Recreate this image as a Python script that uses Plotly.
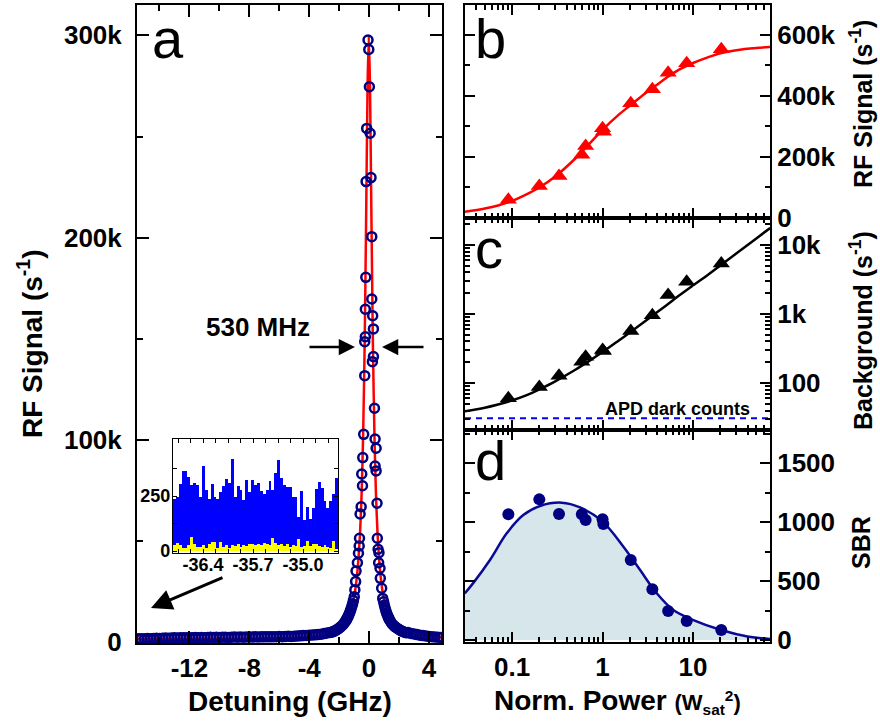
import numpy as np
import plotly.graph_objects as go

FONT = "Liberation Sans, Arial, Helvetica, sans-serif"

# ---------------- panel a: resonance-fluorescence scan (kcounts/s vs GHz) ----------------
core_det = [-0.07, -0.02, 0.02, -0.16, 0.07, 0.13, -0.20, 0.18, -0.22, 0.18,
            -0.25, 0.24, 0.29, -0.25, -0.29, 0.29, 0.22, -0.29, 0.36, -0.36,
            0.40, 0.47, -0.42, 0.40, 0.47, -0.49, -0.44, 0.53, -0.53, -0.60,
            -0.64, 0.55, -0.66, 0.60, 0.66, -0.71, -0.78, 0.64, 0.73, -0.87,
            0.75, -0.90, 0.84, -0.95, 0.91, -0.99,
            -1.05, -1.10, -1.15, -1.20, -1.25, -1.30, -1.35, -1.40, -1.45, -1.50,
            -1.55, -1.60, -1.70, -1.80, -1.90, -2.00, -2.10, -2.20, -2.30, -2.40, -2.50,
            0.97, 1.02, 1.07, 1.12, 1.17, 1.22, 1.27, 1.32, 1.37, 1.42,
            1.50, 1.60, 1.70, 1.80, 1.90, 2.00, 2.10, 2.20, 2.30, 2.40, 2.50]
core_rf_k = [297.7, 293.0, 274.6, 254.0, 251.6, 229.7, 227.7, 200.5, 180.4, 169.7,
             164.6, 161.4, 154.9, 151.0, 148.6, 141.2, 138.7, 131.8, 115.7, 102.8,
             100.5, 95.9, 91.3, 87.1, 84.7, 83.2, 77.4, 68.7, 67.0, 63.4,
             51.4, 51.4, 47.6, 46.0, 44.3, 44.0, 39.3, 39.3, 36.6, 35.2,
             31.6, 30.0, 26.7, 25.9, 21.7, 22.5,
             20.6, 19.0, 17.8, 16.6, 15.5, 14.5, 13.6, 12.8, 12.0, 11.3,
             10.7, 10.1, 9.1, 8.3, 7.6, 7.0, 6.5, 6.0, 5.6, 5.3, 5.0,
             20.0, 18.4, 16.9, 15.6, 14.5, 13.5, 12.6, 11.8, 11.0, 10.4,
             9.4, 8.6, 7.9, 7.3, 6.8, 6.3, 5.9, 5.5, 5.2, 4.9, 4.7]
# far wings of the scan, sampled every 0.2 GHz
tail_left_start = -15.4
tail_left_rf_k = [1.7, 1.8, 1.7, 1.9, 1.8, 1.9, 2.0, 1.9, 2.0, 2.1, 2.0, 2.1, 2.2, 2.1, 2.2, 2.3, 2.2, 2.3,
                  2.3, 2.4, 2.3, 2.4, 2.3, 2.4, 2.5, 2.4, 2.5, 2.4, 2.5, 2.5, 2.4, 2.5, 2.6, 2.5, 2.6, 2.5, 2.6, 2.6,
                  2.6, 2.7, 2.6, 2.7, 2.7, 2.8, 2.7, 2.8, 2.8, 2.9, 2.8, 2.9, 3.0, 2.9, 3.0,
                  3.1, 3.2, 3.3, 3.4, 3.5, 3.6, 3.7, 3.9, 4.0, 4.3, 4.6, 4.9]
tail_right_start = 2.6
tail_right_rf_k = [4.8, 4.4, 4.1, 3.8, 3.5, 3.3, 3.1, 2.9, 2.8, 2.6, 2.5, 2.4]
tail_step = 0.2

# Lorentzian fit (FWHM 530 MHz)
fit_det = [-15.5, -10, -6, -4, -3, -2.5, -2, -1.5, -1.2, -1.0, -0.8, -0.6, -0.5, -0.4, -0.3,
           -0.2, -0.1, -0.02, 0.06, 0.16, 0.26, 0.36, 0.46, 0.56, 0.76, 0.96, 1.2, 1.5, 2, 3, 4.9]
fit_rf_k = [1.6, 1.7, 2.1, 2.8, 3.9, 4.9, 6.7, 11.1, 16.3, 22.5, 33.4, 54.6, 73.1, 101.5, 145,
            207.8, 275.4, 299.5, 275.4, 207.8, 145, 101.5, 73.1, 54.6, 33.4, 22.5, 16.0, 11.0, 6.7, 3.9, 2.4]

# ---------------- inset: counts far off resonance ----------------
inset_start, inset_stop = -36.82, -34.51
inset_signal = [239, 245, 303, 364, 364, 338, 300, 308, 300, 247,
                387, 277, 239, 305, 244, 239, 271, 295, 329, 308,
                419, 244, 295, 277, 231, 323, 270,
                323, 300, 308, 273, 258, 277, 318, 277, 357, 415,
                334, 300, 292, 292, 244, 244, 155, 273, 140, 201,
                146, 194, 282, 312, 286, 227, 196, 227, 259, 334]
inset_dark = [29, 38, 26, 14, 16, 26, 64, 34, 18, 18,
              26, 16, 34, 41, 41, 12, 41, 18, 26, 14,
              26, 22, 30, 20, 28, 24, 30,
              34, 26, 34, 26, 38, 30, 26, 58, 38, 26,
              30, 22, 30, 18, 26, 22, 53, 18, 22, 44,
              22, 30, 34, 22, 18, 26, 20, 14, 44, 8]

# ---------------- panels b-d: power dependence ----------------
power = [0.091, 0.20, 0.33, 0.59, 0.65, 1.0, 1.02, 2.05, 3.55, 5.3, 8.5, 20.5]
rf_signal_k = [60, 105, 138, 207, 236, 294, 283, 376, 422, 476, 507, 553]
background = [60, 88, 128, 204, 240, 300, 290, 567, 960, 1880, 2940, 5400]
sbr = [1065, 1192, 1068, 1065, 1017, 1023, 983, 678, 430, 246, 161, 85]
dark_counts = 31

fit_power_b = [0.03, 0.05, 0.07, 0.1, 0.15, 0.2, 0.3, 0.5, 0.7, 1.0, 1.5, 2.0, 3.0, 4.0, 5.0, 7.0, 10, 15, 20, 30, 50, 71]
fit_rf_b_k = [20, 31, 41, 56, 80, 100, 136, 195, 240, 289, 338, 368, 410, 437, 458, 486, 508, 528, 540, 550, 557, 560]
fit_power_c = [0.03, 0.05, 0.07, 0.1, 0.15, 0.2, 0.3, 0.5, 0.7, 1.0, 1.5, 2.0, 3.0, 5.0, 7.0, 10, 15, 20, 30, 50, 71]
fit_bg_c = [39, 44, 49, 56, 68, 81, 106, 156, 206, 281, 410, 540, 800, 1320, 1850, 2600, 3800, 5050, 7500, 12400, 17600]
fit_power_d = [0.03, 0.037, 0.057, 0.0873, 0.133, 0.204, 0.354, 0.564, 1.0, 1.7, 2.6, 3.97, 6.06, 10.07, 20.4, 40, 71]
fit_sbr_d = [395, 480, 678, 904, 1059, 1136, 1164, 1124, 1003, 791, 593, 396, 254, 169, 85, 30, 8]

NAVY = "#000080"
PX_W, PX_H = 880, 727


def px_x(p):
    return p / PX_W


def px_y(p):
    return 1 - p / PX_H


def axis_style(**kw):
    base = dict(showline=True, linewidth=2, linecolor="black", mirror="allticks",
                ticks="inside", ticklen=10, tickwidth=2, tickcolor="black",
                showgrid=False, zeroline=False, automargin=False,
                tickfont=dict(family=FONT, size=26, color="black", weight="bold"))
    base.update(kw)
    return base


def minor_style(vals, length=5):
    return dict(tickvals=vals, ticks="inside", ticklen=length, tickwidth=1.5,
                tickcolor="black", showgrid=False)


fig = go.Figure()

# panel a
tail_left_det = tail_left_start + tail_step * np.arange(len(tail_left_rf_k))
tail_right_det = tail_right_start + tail_step * np.arange(len(tail_right_rf_k))
scan_det = np.concatenate([tail_left_det, core_det, tail_right_det])
scan_rf = np.concatenate([tail_left_rf_k, core_rf_k, tail_right_rf_k]) * 1000

fig.add_trace(go.Scatter(x=fit_det, y=np.array(fit_rf_k) * 1000, mode="lines",
                         line=dict(color="#ff0000", width=2.5, shape="spline", smoothing=0.5),
                         xaxis="x", yaxis="y"))
fig.add_trace(go.Scatter(x=scan_det, y=scan_rf, mode="markers",
                         marker=dict(symbol="circle-open", size=9, color=NAVY,
                                     line=dict(width=2.5, color=NAVY)),
                         xaxis="x", yaxis="y"))

# inset histograms
n_bins = len(inset_signal)
bin_w = (inset_stop - inset_start) / n_bins
bin_c = inset_start + bin_w * (np.arange(n_bins) + 0.5)
fig.add_trace(go.Bar(x=bin_c, y=inset_signal, width=bin_w, marker=dict(color="#0000ff", line=dict(width=0)),
                     xaxis="x5", yaxis="y5"))
fig.add_trace(go.Bar(x=bin_c, y=inset_dark, width=bin_w, marker=dict(color="#ffff00", line=dict(width=0)),
                     xaxis="x5", yaxis="y5"))

# panel b
fig.add_trace(go.Scatter(x=fit_power_b, y=np.array(fit_rf_b_k) * 1000, mode="lines",
                         line=dict(color="#ff0000", width=2.5, shape="spline"), xaxis="x2", yaxis="y2"))
fig.add_trace(go.Scatter(x=power, y=np.array(rf_signal_k) * 1000, mode="markers",
                         marker=dict(symbol="triangle-up", size=15, color="#ff0000"), xaxis="x2", yaxis="y2"))

# panel c
x_lo, x_hi = -1.52, 1.85
fig.add_trace(go.Scatter(x=[10 ** x_lo, 10 ** x_hi], y=[dark_counts, dark_counts], mode="lines",
                         line=dict(color="#0000ff", width=2, dash="6px,5px"), xaxis="x3", yaxis="y3"))
fig.add_trace(go.Scatter(x=fit_power_c, y=fit_bg_c, mode="lines",
                         line=dict(color="black", width=2.5, shape="spline"), xaxis="x3", yaxis="y3"))
fig.add_trace(go.Scatter(x=power, y=background, mode="markers",
                         marker=dict(symbol="triangle-up", size=15, color="black"), xaxis="x3", yaxis="y3"))

# panel d
fig.add_trace(go.Scatter(x=fit_power_d, y=fit_sbr_d, mode="lines", fill="tozeroy",
                         fillcolor="#d7e6ea", line=dict(color="#0a0a96", width=2.5, shape="spline"),
                         xaxis="x4", yaxis="y4"))
fig.add_trace(go.Scatter(x=power, y=sbr, mode="markers",
                         marker=dict(symbol="circle", size=12, color=NAVY), xaxis="x4", yaxis="y4"))

# ---------------- axes ----------------
dom_a_x = [px_x(137), px_x(442)]
dom_r_x = [px_x(465), px_x(770)]
log_minor = [a * 10 ** e for e in (-2, -1, 0, 1) for a in range(2, 10) if x_lo < np.log10(a * 10 ** e) < x_hi]

layout_axes = dict(
    xaxis=axis_style(domain=dom_a_x, anchor="y", range=[-15.5, 4.87],
                     tickvals=[-12, -8, -4, 0, 4], ticktext=["-12", "-8", "-4", "0", "4"],
                     ticklen=12, ticklabelstandoff=1, minor=minor_style([-14, -10, -6, -2, 2], 6)),
    yaxis=axis_style(domain=[px_y(643), px_y(5)], anchor="x", range=[-350, 315000],
                     tickvals=[0, 100000, 200000, 300000], ticktext=["0", "100k", "200k", "300k"],
                     ticklen=12, ticklabelstandoff=8, minor=minor_style([50000, 150000, 250000], 6)),
    xaxis2=axis_style(domain=dom_r_x, anchor="y2", type="log", range=[x_lo, x_hi],
                      tickvals=[0.1, 1, 10], showticklabels=False, minor=minor_style(log_minor)),
    yaxis2=axis_style(domain=[px_y(218), px_y(5)], anchor="x2", side="right", range=[0, 698000],
                      tickvals=[0, 200000, 400000, 600000], ticktext=["0", "200k", "400k", "600k"],
                      ticklabelstandoff=0, minor=minor_style([100000, 300000, 500000])),
    xaxis3=axis_style(domain=dom_r_x, anchor="y3", type="log", range=[x_lo, x_hi],
                      tickvals=[0.1, 1, 10], showticklabels=False, minor=minor_style(log_minor)),
    yaxis3=axis_style(domain=[px_y(430), px_y(218)], anchor="x3", side="right", type="log",
                      range=[1.32, 4.39], tickvals=[100, 1000, 10000], ticktext=["100", "1k", "10k"],
                      ticklabelstandoff=0,
                      minor=minor_style([a * 10 ** e for e in (1, 2, 3, 4) for a in range(2, 10)
                                         if 1.32 < np.log10(a * 10 ** e) < 4.39])),
    xaxis4=axis_style(domain=dom_r_x, anchor="y4", type="log", range=[x_lo, x_hi],
                      tickvals=[0.1, 1, 10], ticktext=["0.1", "1", "10"], ticklabelstandoff=1,
                      minor=minor_style(log_minor)),
    yaxis4=axis_style(domain=[px_y(642), px_y(430)], anchor="x4", side="right", range=[-17, 1780],
                      tickvals=[0, 500, 1000, 1500], ticktext=["0", "500", "1000", "1500"],
                      ticklabelstandoff=0, minor=minor_style([250, 750, 1250, 1750])),
    xaxis5=axis_style(domain=[px_x(173), px_x(338)], anchor="y5", range=[inset_start, inset_stop],
                      linewidth=1.2, ticklen=4, tickwidth=1, ticklabelstandoff=-5,
                      tickvals=[-36.4, -35.7, -35.0], ticktext=["-36.4", "-35.7", "-35.0"],
                      tickfont=dict(family=FONT, size=18, color="black", weight="bold"),
                      minor=dict(tickvals=[-36.75, -36.575, -36.225, -36.05, -35.875, -35.525,
                                           -35.35, -35.175, -34.825, -34.65],
                                 ticks="inside", ticklen=4, tickwidth=1, tickcolor="black")),
    yaxis5=axis_style(domain=[px_y(553), px_y(439)], anchor="x5", range=[-9, 510],
                      linewidth=1.2, ticklen=4, tickwidth=1, ticklabelstandoff=-2,
                      tickvals=[0, 250], ticktext=["0", "250"],
                      tickfont=dict(family=FONT, size=18, color="black", weight="bold"),
                      minor=dict(tickvals=[125, 375], ticks="inside", ticklen=4, tickwidth=1,
                                 tickcolor="black")),
)

# ---------------- text & arrows ----------------
def label(text, x, y, size, weight="bold", angle=0, xanchor="center", yanchor="middle"):
    return dict(text=text, x=px_x(x), y=px_y(y), xref="paper", yref="paper", showarrow=False,
                textangle=angle, xanchor=xanchor, yanchor=yanchor,
                font=dict(family=FONT, size=size, color="black", weight=weight))


annotations = [
    label("a", 150, 38, 56, weight="normal", xanchor="left"),
    label("b", 473, 38, 56, weight="normal", xanchor="left"),
    label("c", 473, 249, 56, weight="normal", xanchor="left"),
    label("d", 473, 461, 56, weight="normal", xanchor="left"),
    label("RF Signal (s<sup>-1</sup>)", 30, 344, 28, angle=-90),
    label("Detuning (GHz)", 290, 701, 28),
    label("Norm. Power <span style='font-size:22px'>(W<sub>sat</sub><sup>2</sup>)</span>", 617, 701, 28),
    label("RF Signal (s<sup>-1</sup>)", 861, 104, 25, angle=-90),
    label("Background (s<sup>-1</sup>)", 861, 331, 25, angle=-90),
    label("SBR", 861, 543, 25, angle=-90),
    label("530 MHz", 258, 327, 26),
    label("APD dark counts", 677, 409, 18),
    dict(text="", x=px_x(355), y=px_y(347), xref="paper", yref="paper", showarrow=True,
         ax=-47, ay=0, arrowhead=2, arrowsize=1.3, arrowwidth=2.5, arrowcolor="black"),
    dict(text="", x=px_x(382), y=px_y(347), xref="paper", yref="paper", showarrow=True,
         ax=43, ay=0, arrowhead=2, arrowsize=1.3, arrowwidth=2.5, arrowcolor="black"),
    dict(text="", x=px_x(151), y=px_y(608), xref="paper", yref="paper", showarrow=True,
         ax=73, ay=-31, arrowhead=2, arrowsize=1.4, arrowwidth=3, arrowcolor="black"),
]

fig.update_layout(
    width=PX_W, height=PX_H,
    margin=dict(l=0, r=0, t=0, b=0, pad=0),
    paper_bgcolor="white", plot_bgcolor="white",
    showlegend=False, barmode="overlay", bargap=0,
    font=dict(family=FONT, color="black"),
    annotations=annotations,
    **layout_axes,
)

fig.write_html("out.html")
